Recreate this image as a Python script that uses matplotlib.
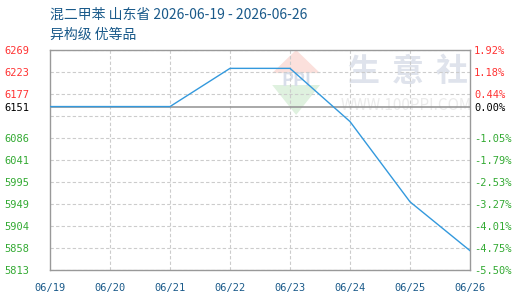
import matplotlib
matplotlib.use('Agg')
import numpy as np
import matplotlib.pyplot as plt
from matplotlib.patches import Polygon

plt.rcParams['font.family'] = ['Noto Sans CJK SC', 'DejaVu Sans']

# 데이터
dates = ['06/19', '06/20', '06/21', '06/22', '06/23', '06/24', '06/25', '06/26']
prices = [6151, 6151, 6151, 6230, 6230, 6120, 5954, 5853]
base = 6151
y_top, y_bot = 6269, 5813
left_labels = ['6269', '6223', '6177', '', '6086', '6041', '5995', '5949', '5904', '5858', '5813']
right_labels = ['1.92%', '1.18%', '0.44%', '', '-1.05%', '-1.79%', '-2.53%', '-3.27%', '-4.01%', '-4.75%', '-5.50%']
title1 = '混二甲苯 山东省 2026-06-19 - 2026-06-26'
title2 = '异构级 优等品'

red, green, blue_txt = '#ff3333', '#33aa33', '#1a5a8a'

fig = plt.figure(figsize=(5.2, 3.0), dpi=100)
ax = fig.add_axes([50/520, 30/300, 420/520, 220.5/300])
x = np.arange(len(dates))

ax.set_xlim(0, len(dates) - 1)
ax.set_ylim(y_bot, y_top)

# 워터마크 (로고)
for cx, ch in zip([0.745, 0.852, 0.957], '生意社'):
    ax.text(cx, 0.898, ch, transform=ax.transAxes, fontsize=23, color='#dfe3ec',
            ha='center', va='center', fontweight='bold', zorder=0)
ax.text(0.848, 0.744, 'WWW.100PPI.COM', transform=ax.transAxes, fontsize=11, color='#ebebeb',
        ha='center', va='center', zorder=0)
ax.add_patch(Polygon([(0.529, 0.893), (0.586, 0.998), (0.643, 0.893)], closed=True,
                     transform=ax.transAxes, color='#fbe0dc', zorder=0, lw=0))
ax.add_patch(Polygon([(0.529, 0.839), (0.586, 0.703), (0.643, 0.839)], closed=True,
                     transform=ax.transAxes, color='#dff1df', zorder=0, lw=0))
ax.text(0.586, 0.858, 'PPI', transform=ax.transAxes, fontsize=13, color='#d8deea',
        ha='center', va='center', fontweight='bold', zorder=0)

# 그리드
ticks = np.linspace(y_top, y_bot, 11)
for t in ticks:
    ax.axhline(t, color='#cccccc', lw=0.8, ls=(0, (3, 2)), zorder=1)
for xi in x[1:-1]:
    ax.axvline(xi, color='#cccccc', lw=0.8, ls=(0, (3, 2)), zorder=1)

ax.axhline(base, color='#999999', lw=1.2, zorder=2)
ax.plot(x, prices, color='#3399dd', lw=1.0, zorder=3)

for s in ax.spines.values():
    s.set_color('#999999')
    s.set_linewidth(1.0)

# y축 라벨
yt = list(ticks[:3]) + [base] + list(ticks[4:])
ax.set_yticks(yt)
ax.set_yticklabels(left_labels[:3] + [str(base)] + left_labels[4:],
                   family='DejaVu Sans Mono', fontsize=7.5)
ax.tick_params(axis='y', length=0, pad=15)
for lab, v in zip(ax.get_yticklabels(), yt):
    lab.set_color(red if v > base + 1 else ('black' if abs(v - base) < 1 else green))

ax2 = ax.twinx()
ax2.set_ylim(y_bot, y_top)
ax2.set_yticks(yt)
ax2.set_yticklabels(right_labels[:3] + ['0.00%'] + right_labels[4:],
                    family='DejaVu Sans Mono', fontsize=7.5)
ax2.tick_params(axis='y', length=0, pad=3)
for lab, v in zip(ax2.get_yticklabels(), yt):
    lab.set_color(red if v > base + 1 else ('black' if abs(v - base) < 1 else green))
for s in ax2.spines.values():
    s.set_visible(False)

ax.set_xticks(x)
ax.set_xticklabels(dates, family='DejaVu Sans Mono', fontsize=7.5, color=blue_txt)
ax.tick_params(axis='x', length=0, pad=9)

fig.text(50/520, 1 - 15/300, title1, fontsize=10, color=blue_txt, va='center', ha='left')
fig.text(50/520, 1 - 35/300, title2, fontsize=10, color=blue_txt, va='center', ha='left')

plt.savefig('out.png', dpi=100)
